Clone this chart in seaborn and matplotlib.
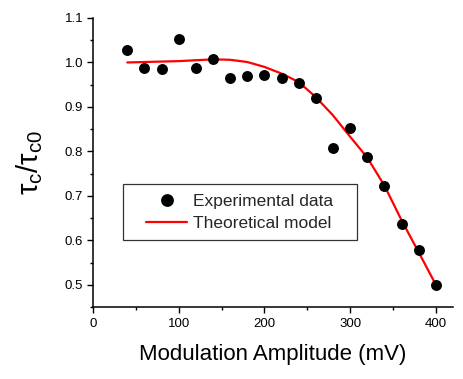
import matplotlib
matplotlib.use("Agg")
import matplotlib.pyplot as plt
import seaborn as sns
import pandas as pd
from matplotlib.patches import Rectangle
from matplotlib.lines import Line2D
from matplotlib.ticker import MultipleLocator

sns.set_theme(style="ticks")
plt.rcParams['font.family'] = ['Liberation Sans', 'DejaVu Sans']
plt.rcParams['mathtext.fontset'] = 'custom'
plt.rcParams['mathtext.rm'] = 'Liberation Sans'

# Experimental data
exp_x = [40, 60, 80, 100, 120, 140, 160, 180, 200, 220,
         240, 260, 280, 300, 320, 340, 360, 380, 400]
exp_y = [1.027, 0.987, 0.985, 1.052, 0.987, 1.007, 0.964, 0.969, 0.972, 0.966,
         0.953, 0.919, 0.807, 0.852, 0.788, 0.723, 0.637, 0.578, 0.500]

# Theoretical model
mod_x = [40, 60, 80, 100, 120, 140, 160, 180, 200, 220,
         240, 260, 280, 300, 320, 340, 360, 380, 400]
mod_y = [1.000, 1.001, 1.002, 1.003, 1.005, 1.007, 1.006, 1.001, 0.990, 0.975,
         0.956, 0.922, 0.881, 0.833, 0.786, 0.723, 0.645, 0.573, 0.500]

labels = ["Experimental data", "Theoretical model"]

exp_df = pd.DataFrame({"x": exp_x, "y": exp_y})
mod_df = pd.DataFrame({"x": mod_x, "y": mod_y})

fig = plt.figure(figsize=(4.63, 3.79), dpi=100)
ax = fig.add_axes([93 / 463, 72 / 379, 360 / 463, 289 / 379])

sns.lineplot(data=mod_df, x="x", y="y", ax=ax, color="#ff0000", lw=1.6,
             zorder=2, legend=False)
sns.scatterplot(data=exp_df, x="x", y="y", ax=ax, color="black", s=62,
                edgecolor="black", linewidth=0, zorder=3, legend=False)

ax.set_xlim(0, 420)
ax.set_ylim(0.45, 1.1)
ax.xaxis.set_major_locator(MultipleLocator(100))
ax.xaxis.set_minor_locator(MultipleLocator(50))
ax.yaxis.set_major_locator(MultipleLocator(0.1))
ax.yaxis.set_minor_locator(MultipleLocator(0.05))
ax.yaxis.set_major_formatter(matplotlib.ticker.FormatStrFormatter('%.1f'))

for s in ["top", "right"]:
    ax.spines[s].set_visible(False)
for s in ["left", "bottom"]:
    ax.spines[s].set_color("black")
    ax.spines[s].set_linewidth(1.1)

ax.tick_params(which="major", direction="out", length=4, width=1.0,
               colors="black", labelsize=9.5, pad=3)
ax.tick_params(which="minor", direction="out", length=2.5, width=1.0,
               colors="black")
ax.tick_params(axis="x", which="major", pad=4)

ax.set_xlabel("Modulation Amplitude (mV)", fontsize=16, labelpad=10,
              color="black")
ax.set_ylabel(r"τ$_\mathregular{c}$/τ$_\mathregular{c0}$", fontsize=21,
              labelpad=14, color="black")

# legend box
x0, y0 = ax.transAxes.inverted().transform(fig.transFigure.transform((122.7 / 463, 1 - 240 / 379)))
x1, y1 = ax.transAxes.inverted().transform(fig.transFigure.transform((356.7 / 463, 1 - 184.3 / 379)))
ax.add_patch(Rectangle((x0, y0), x1 - x0, y1 - y0, transform=ax.transAxes,
                       facecolor="white", edgecolor="#333333", lw=0.9,
                       zorder=4))

handles = [Line2D([], [], ls="none", marker="o", color="black",
                  markersize=8.2),
           Line2D([], [], color="#ff0000", lw=1.6)]
leg = ax.legend(handles, labels, frameon=False, fontsize=12.5,
                loc="center", bbox_to_anchor=((x0 + x1) / 2, (y0 + y1) / 2),
                handlelength=2.35, handletextpad=0.35, labelspacing=0.38,
                borderpad=0.0)
leg.set_zorder(5)

fig.savefig("out.png", dpi=100)
